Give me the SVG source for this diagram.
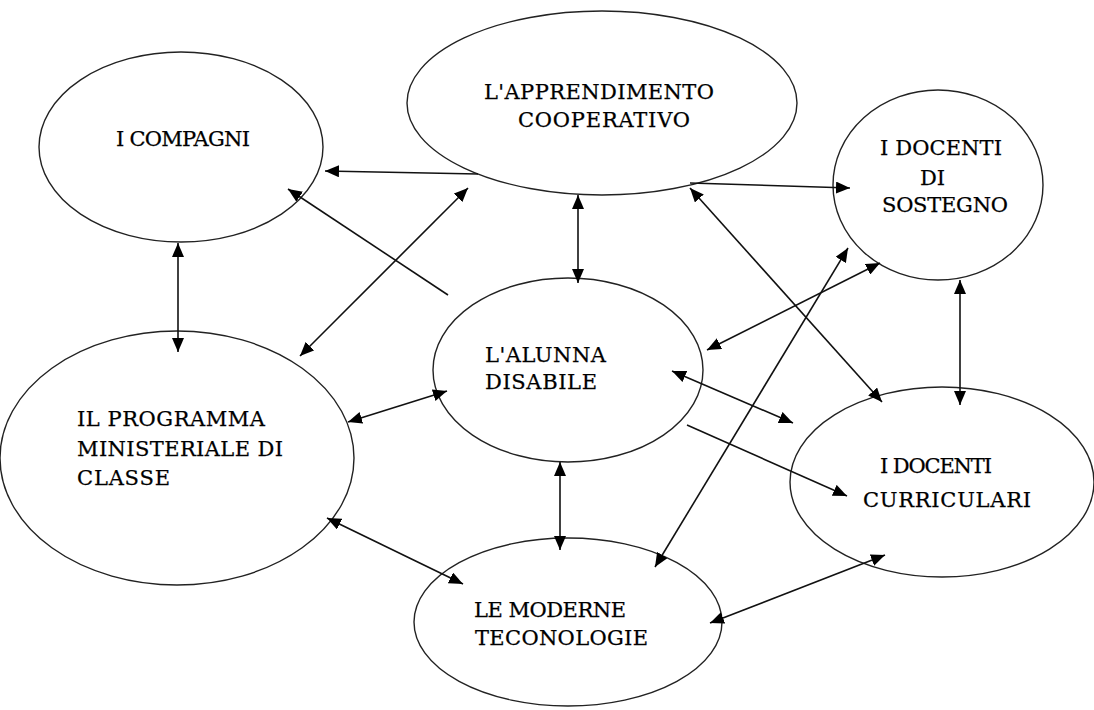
<svg xmlns="http://www.w3.org/2000/svg" width="1094" height="710" viewBox="0 0 1094 710">
<style>
.node ellipse{fill:#ffffff;stroke:#222222;stroke-width:1.4}
.node text{font-family:"DejaVu Serif","Liberation Serif",serif;font-size:21px;fill:#000000;stroke:#000000;stroke-width:0.25}
#connectors path{fill:none;stroke:#111111;stroke-width:1.6}
.b{marker-start:url(#ah);marker-end:url(#ah)}
.e{marker-end:url(#ah)}
</style>
<defs>
<marker id="ah" markerUnits="userSpaceOnUse" markerWidth="15" markerHeight="12" refX="14" refY="6" orient="auto-start-reverse" viewBox="0 0 15 12">
<path d="M0,0 L14,6 L0,12 z" fill="#000000"/>
</marker>
</defs>
<rect width="1094" height="710" fill="#ffffff"/>
<g id="n-compagni" class="node">
<ellipse cx="181" cy="147" rx="142" ry="95"/>
<text x="116" y="146" textLength="134" lengthAdjust="spacing">I COMPAGNI</text>
</g>
<g id="n-apprendimento" class="node">
<ellipse cx="602" cy="103" rx="195" ry="92"/>
<text x="484" y="99" textLength="230" lengthAdjust="spacing">L'APPRENDIMENTO</text>
<text x="518" y="127" textLength="172" lengthAdjust="spacing">COOPERATIVO</text>
</g>
<g id="n-sostegno" class="node">
<ellipse cx="938" cy="185" rx="105" ry="95"/>
<text x="880" y="155" textLength="122" lengthAdjust="spacing">I DOCENTI</text>
<text x="920" y="185">DI</text>
<text x="882" y="212" textLength="126" lengthAdjust="spacing">SOSTEGNO</text>
</g>
<g id="n-alunna" class="node">
<ellipse cx="568" cy="370" rx="135" ry="92"/>
<text x="485" y="362" textLength="121" lengthAdjust="spacing">L'ALUNNA</text>
<text x="485" y="389" textLength="112" lengthAdjust="spacing">DISABILE</text>
</g>
<g id="n-programma" class="node">
<ellipse cx="177" cy="458" rx="177" ry="127"/>
<text x="77" y="426" textLength="188" lengthAdjust="spacing">IL PROGRAMMA</text>
<text x="77" y="456" textLength="206" lengthAdjust="spacing">MINISTERIALE DI</text>
<text x="77" y="485" textLength="93" lengthAdjust="spacing">CLASSE</text>
</g>
<g id="n-curriculari" class="node">
<ellipse cx="942" cy="482" rx="152" ry="95"/>
<text x="880" y="473" textLength="112" lengthAdjust="spacing">I DOCENTI</text>
<text x="863" y="507" textLength="168" lengthAdjust="spacing">CURRICULARI</text>
</g>
<g id="n-tecnologie" class="node">
<ellipse cx="568" cy="622" rx="154" ry="84"/>
<text x="474" y="617" textLength="152" lengthAdjust="spacing">LE MODERNE</text>
<text x="475" y="645" textLength="173" lengthAdjust="spacing">TECONOLOGIE</text>
</g>
<g id="connectors">
<path class="e" d="M478,174 L325,171"/>
<path class="e" d="M448,295 L288,189"/>
<path class="b" d="M300,356 L468,188"/>
<path class="b" d="M178,243 L178,352"/>
<path class="b" d="M578,195 L578,283"/>
<path class="e" d="M690,183 L850,188"/>
<path class="b" d="M690,188 L882,402"/>
<path class="b" d="M707,350 L880,263"/>
<path class="b" d="M655,567 L848,248"/>
<path class="b" d="M672,371 L793,423"/>
<path class="e" d="M687,425 L847,496"/>
<path class="b" d="M960,280 L960,405"/>
<path class="b" d="M348,422 L447,391"/>
<path class="b" d="M560,462 L560,550"/>
<path class="b" d="M327,518 L463,584"/>
<path class="b" d="M710,623 L885,555"/>
</g>
</svg>
